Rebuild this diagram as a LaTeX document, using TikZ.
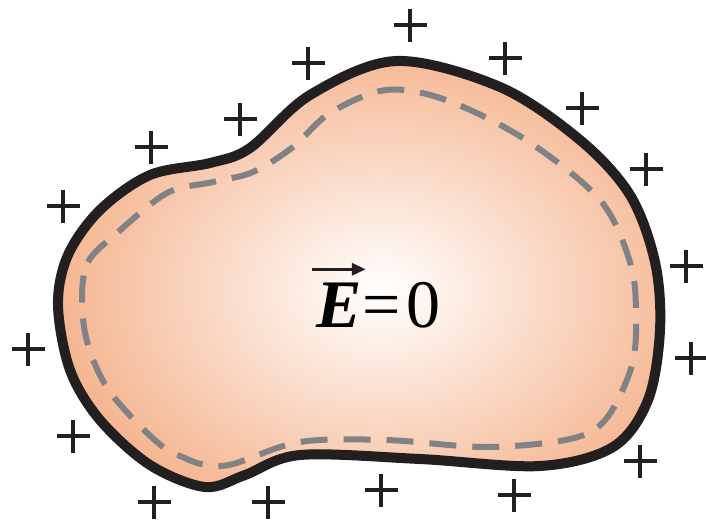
\documentclass[tikz,border=0pt]{standalone}
\usepackage{fontspec}
\setmainfont{Liberation Serif}
\usetikzlibrary{positioning,arrows.meta}

\definecolor{peach}{RGB}{245,180,142}
\definecolor{rim}{RGB}{35,31,32}
\definecolor{dashgray}{RGB}{128,130,133}

\begin{document}
\begin{tikzpicture}[x=1pt, y=-1pt,
  outline/.style={draw=rim, line width=10pt, line join=round},
  gauss/.style={draw=dashgray, line width=6pt, dash pattern=on 27pt off 16pt},
  charge/.style={draw=rim, line width=3.4pt},
  big/.style={inner sep=0pt, font=\fontsize{68}{68}\selectfont}]
\useasboundingbox (0,0) rectangle (706,523);
% conductor body
\path[save path=\bodypath] plot[smooth cycle, tension=0.55] coordinates {
  (58,305) (68,255) (100,210) (150,175) (210,163) (250,148) (310,95)
  (396,61) (500,87) (580,140) (630,195) (655,262) (660,330) (648,400)
  (613,447) (540,466) (420,459) (300,455) (245,475) (205,487) (150,465)
  (100,420) (70,370)};
\begin{scope}
  \clip[use path=\bodypath];
  \shade[inner color=white, outer color=peach] (380,290) ellipse (330 and 250);
\end{scope}
% gaussian surface inside
\path[gauss] plot[smooth cycle, tension=0.55] coordinates {
  (82,300) (88,262) (117,233) (167,193) (213,182) (253,172) (293,147)
  (330,113) (386,90) (446,100) (526,140) (600,200) (630,262) (636,312)
  (632,365) (606,419) (570,439) (486,447) (386,440) (300,442) (233,464)
  (207,465) (187,459) (157,442) (110,392) (88,345)};
\path[outline, use path=\bodypath];
% field label
\node[big, anchor=base west] (evec) at (316,327) {\bfseries\itshape E};
\node[big, anchor=base west] (eqzero) at (362,327) {=\kern6pt0};
\draw[rim, line width=3.4pt, -{Triangle[length=14pt, width=12pt]}]
  ([shift={(-4pt,13pt)}]evec.north west) -- ([shift={(4pt,13pt)}]evec.north east);
% surface charges
\foreach \x/\y in {410/25, 505/58, 582/108, 646/169, 686/266, 691/358, 640/461,
  514/495, 381/490, 268/502, 154/502, 73/436, 28/349, 63/206, 151/147, 240/119, 308/63}
  \draw[charge] (\x,\y) ++(-16.5,0) -- ++(33,0) (\x,\y) ++(0,-16.5) -- ++(0,33);
\end{tikzpicture}
\end{document}
